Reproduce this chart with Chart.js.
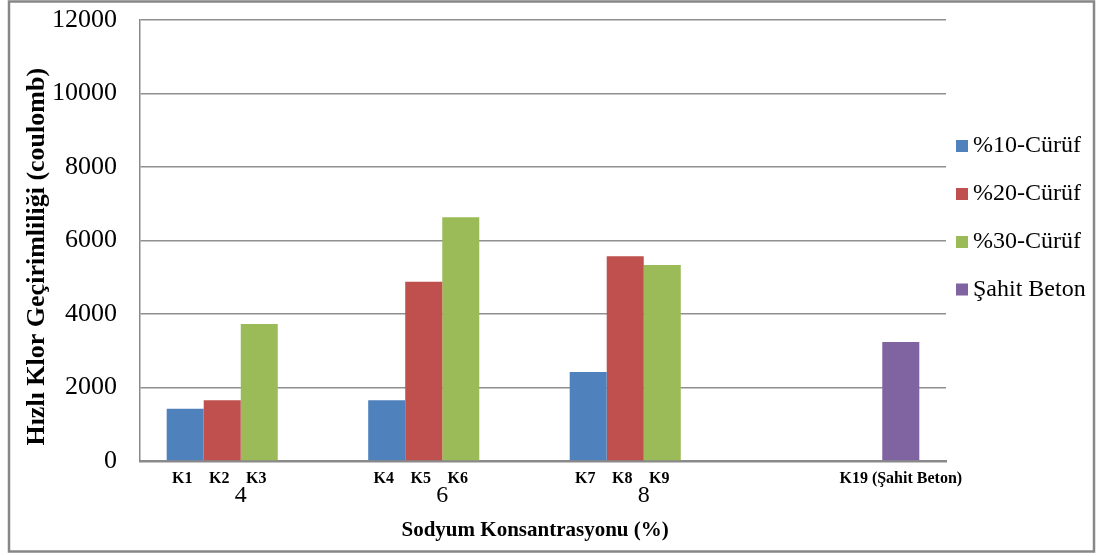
<!DOCTYPE html>
<html>
<head>
<meta charset="utf-8">
<script src="https://cdn.jsdelivr.net/npm/chart.js@4.4.1/dist/chart.umd.min.js"></script>
<style>
  html, body { margin: 0; padding: 0; background: #fff; }
  #wrap { width: 1103px; height: 556px; position: relative; }
</style>
</head>
<body>
<div id="wrap"><canvas id="c" width="1103" height="556"></canvas></div>
<script>
// Sodium concentration groups (the last group holds the reference concrete)
const categories = ['4', '6', '8', ''];

// Rapid chloride permeability, coulomb
const curuf10 = [1420, 1650, 2420, null];
const curuf20 = [1650, 4880, 5570, null];
const curuf30 = [3730, 6630, 5330, null];
const sahitBeton = [null, null, null, 3240];

// Mix codes written under each bar
const codes10 = ['K1', 'K4', 'K7', ''];
const codes20 = ['K2', 'K5', 'K8', ''];
const codes30 = ['K3', 'K6', 'K9', ''];
const codesSahit = ['', '', '', 'K19 (Şahit Beton)'];

const seriesNames = ['%10-Cürüf', '%20-Cürüf', '%30-Cürüf', 'Şahit Beton'];
const yTicks = [0, 2000, 4000, 6000, 8000, 10000, 12000];

const SERIF = "'Liberation Serif', 'Times New Roman', serif";
const colors = ['#4F81BD', '#C0504D', '#9BBB59', '#8064A2'];
const codeSets = [codes10, codes20, codes30, codesSahit];

// Frame around the whole figure
const framePlugin = {
  id: 'frame',
  beforeDraw(chart) {
    const ctx = chart.ctx;
    ctx.save();
    ctx.fillStyle = '#fff';
    ctx.fillRect(0, 0, chart.width, chart.height);
    ctx.strokeStyle = '#878787';
    ctx.lineWidth = 2.5;
    ctx.strokeRect(9, 1.5, 1085, 550);
    ctx.restore();
  }
};

// Mix codes under the bars, placed from each bar element
const codePlugin = {
  id: 'codes',
  afterDatasetsDraw(chart) {
    const ctx = chart.ctx;
    ctx.save();
    ctx.font = "bold 16px " + SERIF;
    ctx.fillStyle = '#000';
    ctx.textAlign = 'center';
    ctx.textBaseline = 'middle';
    const y = chart.chartArea.bottom + 18;
    chart.data.datasets.forEach((ds, di) => {
      const meta = chart.getDatasetMeta(di);
      meta.data.forEach((bar, i) => {
        const txt = codeSets[di][i];
        if (!txt) return;
        const shift = txt.length > 3 ? 0 : -3;
        ctx.fillText(txt, bar.x + shift, y);
      });
    });
    ctx.restore();
  }
};

// Legend column to the right of the plot
const legendPlugin = {
  id: 'sideLegend',
  afterDraw(chart) {
    const ctx = chart.ctx;
    const x0 = chart.chartArea.right + 10;
    const ys = [146, 194, 242, 289.5];
    ctx.save();
    ctx.font = "24px " + SERIF;
    ctx.textAlign = 'left';
    ctx.textBaseline = 'middle';
    chart.data.datasets.forEach((ds, i) => {
      const y = ys[i];
      ctx.fillStyle = ds.backgroundColor;
      ctx.fillRect(x0, y - 6, 12, 12);
      ctx.fillStyle = '#000';
      ctx.fillText(ds.label, x0 + 17, y);
    });
    ctx.restore();
  }
};

const datasets = [curuf10, curuf20, curuf30, sahitBeton].map((vals, i) => ({
  label: seriesNames[i],
  data: vals,
  backgroundColor: colors[i],
  borderWidth: 0,
  categoryPercentage: 0.735,
  barPercentage: 1.0
}));

new Chart(document.getElementById('c'), {
  type: 'bar',
  data: { labels: categories, datasets },
  options: {
    responsive: false,
    animation: false,
    devicePixelRatio: 1,
    layout: { padding: { left: 8, top: 20, right: 157, bottom: 4 } },
    plugins: {
      legend: { display: false },
      tooltip: { enabled: false }
    },
    scales: {
      x: {
        grid: { display: false, drawTicks: false },
        border: { display: true, color: '#8a8a8a', width: 2.5 },
        ticks: {
          color: '#000',
          font: { family: SERIF, size: 24 },
          padding: 20,
          maxRotation: 0
        },
        title: {
          display: true,
          text: 'Sodyum Konsantrasyonu (%)   ',
          color: '#000',
          font: { family: SERIF, size: 21, weight: 'bold' },
          padding: { top: 0, bottom: 9 }
        },
        afterFit(scale) { scale.height = 91; }
      },
      y: {
        min: 0,
        max: 12000,
        afterBuildTicks(scale) { scale.ticks = yTicks.map(v => ({ value: v })); },
        grid: { color: '#8f8f8f', lineWidth: 1.5, drawTicks: false },
        border: { display: true, color: '#8a8a8a', width: 1.5 },
        ticks: {
          color: '#000',
          font: { family: SERIF, size: 26 },
          padding: 23,
          callback: v => String(v)
        },
        title: {
          display: true,
          text: 'Hızlı Klor Geçirimliliği (coulomb)     ',
          color: '#000',
          font: { family: SERIF, size: 26, weight: 'bold' },
          padding: { top: 14, bottom: 0 }
        },
        afterFit(scale) {
          scale.width = 132;
          scale.paddingTop = 0;
          scale.paddingBottom = 0;
        }
      }
    }
  },
  plugins: [framePlugin, codePlugin, legendPlugin]
});
</script>
</body>
</html>
